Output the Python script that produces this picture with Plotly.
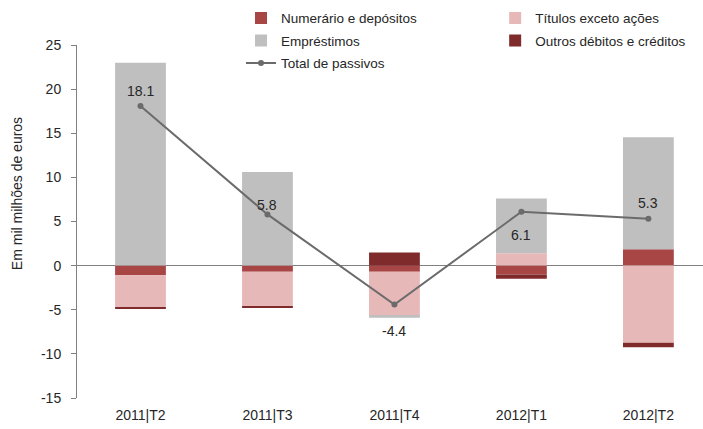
import plotly.graph_objects as go

categories = ["2011|T2", "2011|T3", "2011|T4", "2012|T1", "2012|T2"]
numerario = [-1.1, -0.7, -0.7, -1.0, 1.85]
titulos = [-3.6, -3.9, -5.0, 1.4, -8.75]
emprestimos = [23.0, 10.6, -0.2, 6.2, 12.7]
outros = [-0.2, -0.2, 1.5, -0.5, -0.5]
total = [18.1, 5.8, -4.4, 6.1, 5.3]
total_labels = ["18.1", "5.8", "-4.4", "6.1", "5.3"]
y_ticks = [-15, -10, -5, 0, 5, 10, 15, 20, 25]
y_ticktext = ["-15", "-10", "-5", "0", "5", "10", "15", "20", "25"]

FONT = "Liberation Sans Narrow, Arial Narrow, Liberation Sans, sans-serif"
TXT = "#262626"
label_shift = [15, 9, -27, -23, 16]

fig = go.Figure()
bar_specs = [
    ("Numerário e depósitos", numerario, "#A84545", "legend"),
    ("Títulos exceto ações", titulos, "#E6B8B7", "legend2"),
    ("Empréstimos", emprestimos, "#BFBFBF", "legend"),
    ("Outros débitos e créditos", outros, "#802B2B", "legend2"),
]
for name, vals, col, lg in bar_specs:
    fig.add_trace(go.Bar(x=categories, y=vals, name=name, marker_color=col,
                         marker_line_width=0, width=0.4, legend=lg,
                         legendgroup=name))

fig.add_trace(go.Scatter(x=categories, y=total, name="Total de passivos",
                         mode="lines+markers", line=dict(color="#6B6B6B", width=2),
                         marker=dict(size=6, color="#6B6B6B"), legend="legend",
                         legendgroup="total"))

for c, v, t, s in zip(categories, total, total_labels, label_shift):
    fig.add_annotation(x=c, y=v, text=t, showarrow=False, yshift=s,
                       font=dict(size=14, color=TXT, family=FONT))

fig.add_annotation(xref="paper", yref="paper", x=-0.096, xanchor="center",
                   y=0.58, yanchor="middle", text="Em mil milhões de euros",
                   textangle=-90, showarrow=False,
                   font=dict(size=14, color=TXT, family=FONT))

leg_common = dict(yanchor="top", xanchor="left", bgcolor="rgba(0,0,0,0)",
                  tracegroupgap=2, traceorder="grouped", itemwidth=30,
                  font=dict(size=13.5, family=FONT, color=TXT))

fig.update_layout(
    width=703, height=429,
    margin=dict(l=77, r=0, t=45, b=31, autoexpand=False),
    barmode="relative",
    plot_bgcolor="white", paper_bgcolor="white",
    font=dict(family=FONT, size=14, color=TXT),
    showlegend=True,
    legend=dict(x=0.262, y=1.12, **leg_common),
    legend2=dict(x=0.668, y=1.12, **leg_common),
    xaxis=dict(range=[-0.5, 4.43], showline=False, ticks="", showgrid=False,
               tickfont=dict(size=14, family=FONT, color=TXT), zeroline=False,
               ticklabelstandoff=7),
    yaxis=dict(range=[-15, 25], tickvals=y_ticks, ticktext=y_ticktext,
               showgrid=False, zeroline=True,
               zerolinecolor="#808080", zerolinewidth=1,
               showline=True, linecolor="#808080", linewidth=1,
               ticks="outside", ticklen=5, tickcolor="#808080",
               ticklabelstandoff=7,
               tickfont=dict(size=14, family=FONT, color=TXT)),
)

fig.write_html("out.html", config={"displayModeBar": False},
               post_script="document.body.style.margin='0';document.body.style.overflow='hidden';")
